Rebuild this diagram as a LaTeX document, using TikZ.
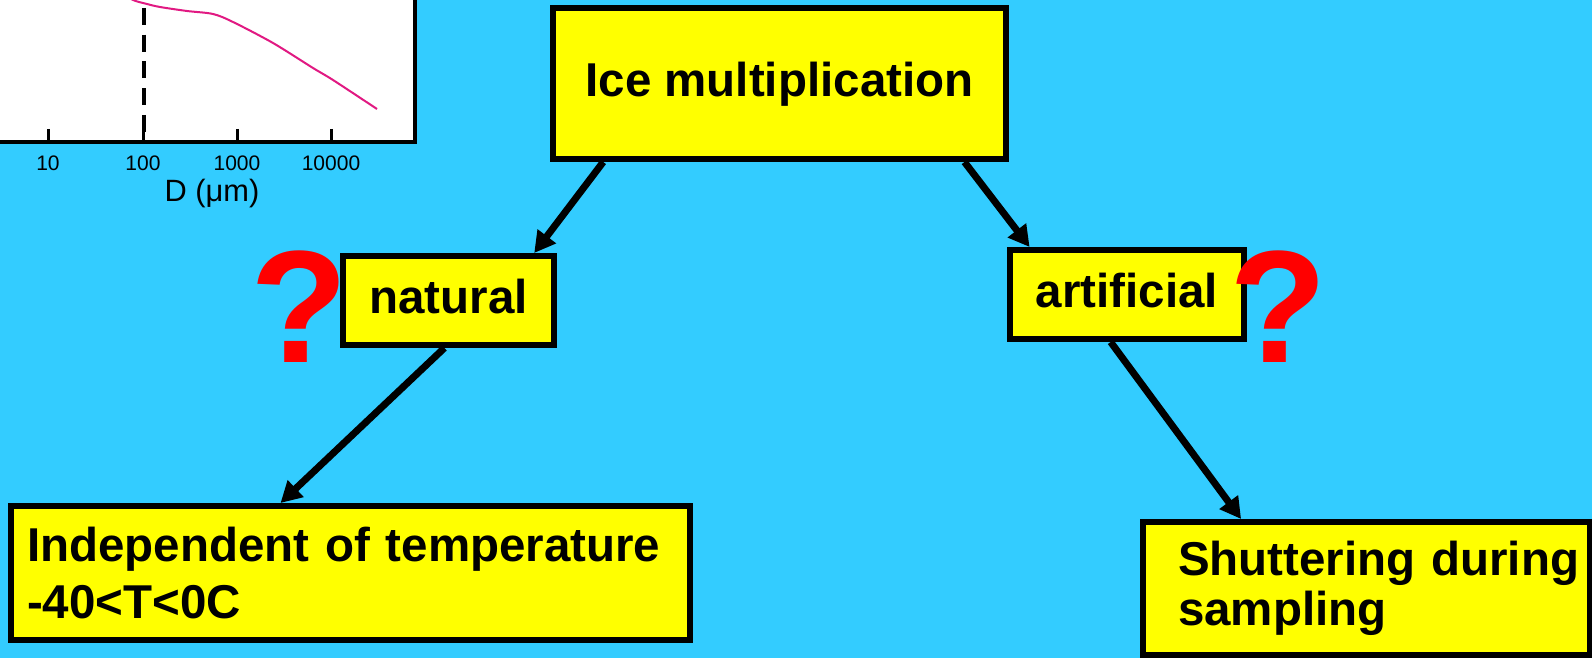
\documentclass[tikz,border=0pt]{standalone}
\usepackage{fontspec}
\setsansfont{Liberation Sans}
\usetikzlibrary{arrows.meta}
\definecolor{skyBlue}{RGB}{51,204,255}
\definecolor{boxYellow}{RGB}{255,255,0}
\definecolor{curvePink}{RGB}{225,25,130}

\begin{document}
\begin{tikzpicture}[x = 0.5pt, y = -0.5pt, font=\sffamily]
	\tikzstyle{boxStyle} = [shape = rectangle, draw, line width = 3pt, fill = boxYellow, inner sep = 0pt, font = \sffamily\bfseries\fontsize{23.75pt}{28.5pt}\selectfont, text height = 17.8pt, text depth = 4.75pt]
	\tikzstyle{blockStyle} = [shape = rectangle, draw, line width = 3pt, fill = boxYellow, inner ysep = 0pt, align = left]
	\tikzstyle{questionStyle} = [anchor = base, inner sep = 0pt, text = red, font = \sffamily\bfseries\fontsize{80pt}{80pt}\selectfont]
	\tikzstyle{arrowStyle} = [line width = 3.5pt, -{Triangle[length = 10.5pt, width = 11pt]}]
	\tikzstyle{tickStyle} = [anchor = base, inner sep = 0pt, font = \sffamily\fontsize{10.5pt}{12pt}\selectfont]
	\useasboundingbox (0, 0) rectangle (1592, 658);
	\clip (0, 0) rectangle (1592, 658);
	\fill[skyBlue] (0, 0) rectangle (1592, 658);
	% size distribution plot, cut off at the corner
	\filldraw[fill = white, draw = black, line width = 1.75pt] (-20, -20) rectangle (415, 142);
	\draw[line width = 1.5pt] (48, 129) -- (48, 142);
	\draw[line width = 1.5pt] (143, 129) -- (143, 142);
	\draw[line width = 1.5pt] (237, 129) -- (237, 142);
	\draw[line width = 1.5pt] (331, 129) -- (331, 142);
	\draw[line width = 2pt, dash pattern = on 8.5pt off 4.85pt] (144, -18.7) -- (144, 140);
	\draw[curvePink, line width = 1pt] plot[smooth] coordinates {(120, -8) (133, 0) (147, 4) (160, 7) (187, 11) (213, 14) (233, 22) (273, 43) (313, 68) (333, 80) (377, 109)};
	\node[tickStyle] (t10) at (48, 170) {10};
	\node[tickStyle] (t100) at (143, 170) {100};
	\node[tickStyle] (t1000) at (237, 170) {1000};
	\node[tickStyle] (t10000) at (331, 170) {10000};
	\node[anchor = base, inner sep = 0pt, font = \sffamily\fontsize{15.4pt}{18pt}\selectfont] (xlabel) at (212, 202) {D (μm)};
	% boxes
	\node[boxStyle, minimum width = 226.5pt, minimum height = 75.5pt] (ice) at (779.5, 83.5) {Ice multiplication};
	\node[boxStyle, minimum width = 105.5pt, minimum height = 44.5pt] (natural) at (448.5, 300.5) {natural};
	\node[boxStyle, minimum width = 117pt, minimum height = 44.5pt] (artificial) at (1127, 294.5) {artificial};
	\node[blockStyle, minimum height = 67pt, text width = 323.5pt, inner xsep = 8pt, font = \sffamily\bfseries\fontsize{23.75pt}{28.5pt}\selectfont] (indep) at (350.5, 573) {\mbox{Independent of temperature}\\\mbox{-40<T<0C}};
	\node[blockStyle, minimum height = 66.5pt, text width = 188.5pt, inner xsep = 17.5pt, font = \sffamily\bfseries\fontsize{23.75pt}{25pt}\selectfont] (shutter) at (1366.5, 588.5) {\mbox{Shuttering during}\\\mbox{sampling}};
	% arrows
	\draw[arrowStyle] (ice.204) -- (natural.29.5);
	\draw[arrowStyle] (ice.337.5) -- (artificial.154.7);
	\draw[arrowStyle] (natural.265.5) -- (indep.135.2);
	\draw[arrowStyle] (artificial.251.4) -- (shutter.151);
	% question marks
	\node[questionStyle] (q1) at (299, 362) {?};
	\node[questionStyle] (q2) at (1278, 362) {?};
\end{tikzpicture}
\end{document}
